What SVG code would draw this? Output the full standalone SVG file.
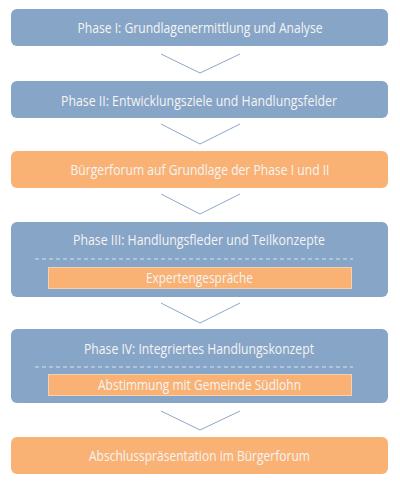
<svg xmlns="http://www.w3.org/2000/svg" width="400" height="485" viewBox="0 0 400 485">
<style>
.blue{fill:#87a5c7}
.orange{fill:#f9b274}
.inner{fill:#f9b274;stroke:#f3d2b4;stroke-width:1}
.t{font-family:"Open Sans","Liberation Sans",sans-serif;font-size:14.6px;fill:#f4f4f4;text-anchor:middle}
.dash{stroke:#d9e2ee;stroke-width:1;stroke-dasharray:4 3;fill:none}
.chev{stroke:#8da8c7;stroke-width:1;fill:none}
</style>
<rect width="400" height="485" fill="#ffffff"/>
<g id="connectors">
<polyline class="chev" points="161,54 200,73 240,54"/>
<polyline class="chev" points="161,124 200,144 240,124"/>
<polyline class="chev" points="161,194 200,214 240,194"/>
<polyline class="chev" points="161,303 200,323 240,303"/>
<polyline class="chev" points="161,411 200,430 240,411"/>
</g>
<g id="phase1">
<rect class="blue" x="11" y="9" width="377" height="37" rx="6"/>
<text class="t" x="200" y="33" textLength="245" lengthAdjust="spacingAndGlyphs">Phase I: Grundlagenermittlung und Analyse</text>
</g>
<g id="phase2">
<rect class="blue" x="11" y="81" width="377" height="37" rx="6"/>
<text class="t" x="199" y="106" textLength="276" lengthAdjust="spacingAndGlyphs">Phase II: Entwicklungsziele und Handlungsfelder</text>
</g>
<g id="buergerforum1">
<rect class="orange" x="11" y="151" width="377" height="37" rx="6"/>
<text class="t" x="200" y="175" textLength="259" lengthAdjust="spacingAndGlyphs">Bürgerforum auf Grundlage der Phase I und II</text>
</g>
<g id="phase3">
<rect class="blue" x="11" y="222" width="377" height="75" rx="6"/>
<text class="t" x="199" y="245" textLength="252" lengthAdjust="spacingAndGlyphs">Phase III: Handlungsfleder und Teilkonzepte</text>
<line class="dash" x1="35" y1="259" x2="353" y2="259"/>
<rect class="inner" x="48.5" y="267.5" width="303" height="21"/>
<text class="t" x="199.5" y="283" textLength="107" lengthAdjust="spacingAndGlyphs">Expertengespräche</text>
</g>
<g id="phase4">
<rect class="blue" x="11" y="329" width="377" height="74" rx="6"/>
<text class="t" x="199" y="354" textLength="230" lengthAdjust="spacingAndGlyphs">Phase IV: Integriertes Handlungskonzept</text>
<line class="dash" x1="35" y1="367" x2="353" y2="367"/>
<rect class="inner" x="48.5" y="374.5" width="303" height="21"/>
<text class="t" x="199.5" y="390" textLength="203" lengthAdjust="spacingAndGlyphs">Abstimmung mit Gemeinde Südlohn</text>
</g>
<g id="abschluss">
<rect class="orange" x="11" y="437" width="377" height="37" rx="6"/>
<text class="t" x="199.5" y="461" textLength="221" lengthAdjust="spacingAndGlyphs">Abschlusspräsentation im Bürgerforum</text>
</g>
</svg>
